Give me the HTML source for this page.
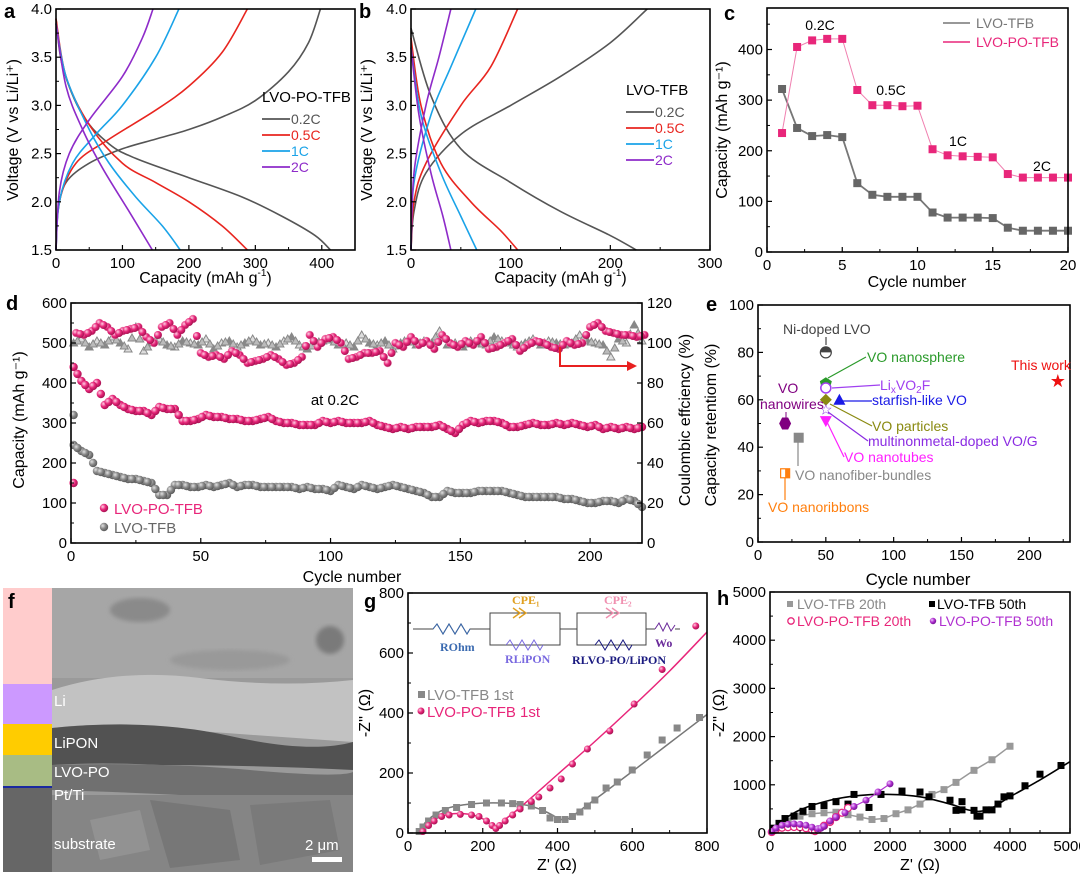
<!DOCTYPE html>
<html><head><meta charset="utf-8"><style>
html,body{margin:0;padding:0;background:#fff;}
svg{display:block;font-family:"Liberation Sans",Arial,sans-serif;}
.sem{font-family:"Liberation Sans",sans-serif;fill:#fff;font-size:15px;}
</style></head><body>
<svg id="fig" width="1080" height="880" viewBox="0 0 1080 880" xmlns="http://www.w3.org/2000/svg">
<defs>
<radialGradient id="gp" cx="35%" cy="35%" r="70%"><stop offset="0" stop-color="#ffd0e4"/><stop offset="0.5" stop-color="#e8267a"/><stop offset="1" stop-color="#a0104e"/></radialGradient>
<radialGradient id="gg" cx="35%" cy="35%" r="70%"><stop offset="0" stop-color="#e0e0e0"/><stop offset="0.5" stop-color="#888"/><stop offset="1" stop-color="#555"/></radialGradient>
<radialGradient id="gv" cx="35%" cy="35%" r="70%"><stop offset="0" stop-color="#f0c8ff"/><stop offset="0.5" stop-color="#b030d0"/><stop offset="1" stop-color="#701090"/></radialGradient>
<filter id="blur"><feGaussianBlur stdDeviation="2"/></filter>
</defs>
<g>
<rect x="3" y="588" width="49" height="96" fill="#ffcccc"/>
<rect x="3" y="684" width="49" height="40" fill="#cc99ff"/>
<rect x="3" y="724" width="49" height="31" fill="#ffcc00"/>
<rect x="3" y="755" width="49" height="32" fill="#a8bc84"/>
<rect x="3" y="786" width="49" height="2" fill="#1a2aa0"/>
<rect x="3" y="788" width="49" height="84" fill="#666"/>
<g>
<rect x="52" y="588" width="301" height="284" fill="#9a9a9a"/>
<rect x="52" y="588" width="301" height="90" fill="#a6a6a6"/>
<ellipse cx="140" cy="610" rx="30" ry="12" fill="#8a8a8a" filter="url(#blur)"/>
<ellipse cx="330" cy="640" rx="14" ry="14" fill="#7a7a7a" filter="url(#blur)"/>
<ellipse cx="230" cy="660" rx="60" ry="10" fill="#999" filter="url(#blur)"/>
<path d="M52 690 Q120 668 200 678 T353 680 L353 742 Q250 735 160 728 Q100 722 52 728Z" fill="#c2c2c2"/>
<path d="M52 728 Q150 718 230 736 T353 742 L353 770 Q250 765 160 765 Q100 762 52 765Z" fill="#525252"/>
<path d="M52 765 Q160 762 250 770 T353 772 L353 800 Q250 798 180 795 Q120 792 52 790Z" fill="#707070"/>
<rect x="52" y="795" width="301" height="77" fill="#858585"/>
<path d="M150 800 L230 810 L240 860 L170 868 Z" fill="#777"/>
<path d="M250 805 L330 800 L340 850 L260 865 Z" fill="#7a7a7a"/>
<path d="M90 820 L140 810 L150 850 L100 860 Z" fill="#929292"/>
<rect x="312" y="857" width="30" height="5" fill="#fff"/>
</g>
<text class="sem" x="54" y="706">Li</text>
<text class="sem" x="54" y="748">LiPON</text>
<text class="sem" x="54" y="777">LVO-PO</text>
<text class="sem" x="54" y="800">Pt/Ti</text>
<text class="sem" x="54" y="849">substrate</text>
<text class="sem" x="305" y="850" font-size="17">2 μm</text>
<text x="8" y="608" font-size="20" font-weight="bold">f</text>
</g>
</svg>
<script>
const NS='http://www.w3.org/2000/svg';
const svg=document.getElementById('fig');
function mk(tag,attrs,name,parent){
  const e=document.createElementNS(NS,tag);
  for(const k in attrs) e.setAttribute(k,attrs[k]);
  
  
  (parent||svg).appendChild(e);
  return e;
}
function txt(s,attrs,name,parent){const e=mk('text',attrs,name,parent);e.textContent=s;return e;}
function lin(d0,d1,r0,r1){return v=>r0+(v-d0)/(d1-d0)*(r1-r0);}
function frame(g,x0,x1,yb,yt){mk('rect',{x:x0,y:yt,width:x1-x0,height:yb-yt,fill:'none',stroke:'#000','stroke-width':1.6},'plot-frame',g);}
function xticks(g,sx,ticks,yb,labels,minor){ticks.forEach((t,i)=>{mk('line',{x1:sx(t),x2:sx(t),y1:yb,y2:yb-5,stroke:'#000','stroke-width':1.2},'x-tick',g);txt(labels[i],{x:sx(t),y:yb+18,'text-anchor':'middle','font-size':15},'x-tick-label',g);});
 (minor||[]).forEach(t=>mk('line',{x1:sx(t),x2:sx(t),y1:yb,y2:yb-3,stroke:'#000'},'x-minor-tick',g));}
function yticks(g,sy,ticks,x0,labels,minor){ticks.forEach((t,i)=>{mk('line',{x1:x0,x2:x0+5,y1:sy(t),y2:sy(t),stroke:'#000','stroke-width':1.2},'y-tick',g);txt(labels[i],{x:x0-4,y:sy(t)+5,'text-anchor':'end','font-size':15},'y-tick-label',g);});
 (minor||[]).forEach(t=>mk('line',{x1:x0,x2:x0+3,y1:sy(t),y2:sy(t),stroke:'#000'},'y-minor-tick',g));}
function ytitle(g,s,x,y,name){return txt(s,{x:x,y:y,'text-anchor':'middle','font-size':16,transform:`rotate(-90 ${x} ${y})`},name,g);}
function pathOf(xs,ys,sx,sy){return xs.map((x,i)=>(i?'L':'M')+sx(x).toFixed(1)+' '+sy(ys[i]).toFixed(1)).join(' ');}
function smooth(xs,ys,sx,sy){const p=xs.map((x,i)=>[sx(x),sy(ys[i])]);let d='M'+p[0][0]+' '+p[0][1];
 for(let i=0;i<p.length-1;i++){const p0=p[i-1]||p[i],p1=p[i],p2=p[i+1],p3=p[i+2]||p2;
 d+=` C${p1[0]+(p2[0]-p0[0])/6} ${p1[1]+(p2[1]-p0[1])/6} ${p2[0]-(p3[0]-p1[0])/6} ${p2[1]-(p3[1]-p1[1])/6} ${p2[0]} ${p2[1]}`;}return d;}

/* ===== Panel a data ===== */
const aRates=['0.2C','0.5C','1C','2C'];
const aColors=['#555555','#e8251f','#1aa3e8','#8e2bc9'];
const aChgCap=[[0,3,15,50,100,150,200,250,300,350,380,398],[0,5,30,80,150,200,250,288],[0,5,25,60,100,150,185],[0,5,20,50,100,130,146]];
const aChgV=[[1.5,1.9,2.2,2.4,2.55,2.65,2.75,2.88,3.05,3.35,3.65,4.0],[1.5,2.0,2.4,2.65,2.95,3.2,3.55,4.0],[1.5,2.0,2.4,2.7,3.0,3.5,4.0],[1.5,2.1,2.5,2.85,3.3,3.7,4.0]];
const aDisCap=[[0,10,40,80,120,200,280,340,390,413],[0,15,50,100,150,200,250,288],[0,15,50,80,120,160,187],[0,15,40,70,110,145]];
const aDisV=[[3.9,3.4,2.9,2.6,2.45,2.25,2.05,1.85,1.65,1.5],[3.9,3.3,2.8,2.4,2.2,2.0,1.75,1.5],[3.85,3.3,2.75,2.4,2.05,1.75,1.5],[3.85,3.2,2.75,2.35,1.9,1.5]];
/* ===== Panel b data ===== */
const bChgCap=[[0,3,15,50,100,150,200,237],[0,3,15,50,80,107],[0,3,20,40,65],[0,3,15,28,40]];
const bChgV=[[1.5,1.9,2.3,2.7,3.0,3.3,3.65,4.0],[1.5,2.0,2.4,3.0,3.4,4.0],[1.5,2.2,2.9,3.4,4.0],[1.5,2.3,3.0,3.5,4.0]];
const bDisCap=[[0,20,50,100,150,200,226],[0,10,30,60,90,107],[0,10,30,50,66],[0,8,20,32,40]];
const bDisV=[[3.8,3.1,2.55,2.2,1.9,1.65,1.5],[3.7,3.0,2.4,2.0,1.7,1.5],[3.6,2.9,2.3,1.85,1.5],[3.6,2.9,2.3,1.85,1.5]];
/* ===== Panel c data ===== */
const cCycles=[1,2,3,4,5,6,7,8,9,10,11,12,13,14,15,16,17,18,19,20];
const cPO=[235,405,418,421,421,320,290,290,288,289,203,191,189,188,187,154,147,147,147,147];
const cTFB=[322,245,229,231,227,136,113,109,109,109,78,68,68,68,67,48,42,42,42,42];
/* ===== Panel d data (every 3rd cycle starting at 1) ===== */
const dStep=3;
const dPOcap=[440,405,385,400,345,360,345,335,330,330,320,340,335,335,305,305,310,320,315,315,310,310,305,305,310,315,305,300,300,295,295,295,305,300,305,300,300,300,305,295,290,285,290,285,290,290,290,295,285,275,295,305,300,305,305,300,290,290,295,300,295,295,300,295,300,295,290,295,285,290,285,290,285,290];
const dTFBcap=[245,230,220,180,175,170,165,160,160,155,150,120,120,145,145,140,140,145,140,145,150,140,145,145,140,140,140,140,140,135,140,135,135,130,145,140,135,145,140,135,140,145,140,135,130,125,115,115,130,125,125,125,130,130,130,130,125,120,115,115,115,115,115,110,110,105,100,100,105,105,100,110,105,90];
const dPOce=[105,104,106,110,108,104,106,107,108,103,100,108,110,104,109,112,95,93,94,92,96,94,90,91,92,94,92,89,90,93,104,98,102,103,100,92,93,95,95,96,90,100,98,103,99,101,97,104,100,98,101,99,103,97,98,100,102,96,99,101,100,98,97,101,99,100,108,110,106,105,104,104,103,104];
const dTFBce=[100,102,98,101,99,103,100,97,108,96,100,102,99,98,101,100,99,102,97,100,101,98,100,102,99,100,98,101,103,99,97,100,101,102,99,100,98,104,100,99,101,97,100,102,99,101,100,106,99,100,98,101,100,99,103,101,100,98,100,102,99,101,100,99,100,104,101,100,99,93,102,100,109,101];
const dFirstPO=150, dFirstTFB=320;
/* ===== Panel e data ===== */
const eNames=['Ni-doped LVO','VO nanosphere','LixVO2F','starfish-like VO','VO particles','multinonmetal-doped VO/G','VO nanotubes','VO nanowires','VO nanofiber-bundles','VO nanoribbons','This work'];
const eCycles=[50,50,50,60,50,50,50,20,30,20,221];
const eRetention=[80,67,65,60,60,56,51,50,44,29,68];
/* ===== Panel g data ===== */
const gTFBx=[30,40,55,75,100,130,170,210,250,280,300,330,360,380,400,420,440,460,480,500,530,560,600,640,680,720,780];
const gTFBy=[5,20,40,60,75,85,95,100,100,98,95,90,75,50,45,45,55,70,90,110,150,170,210,260,310,350,385];
const gTFBfitX=[30,50,100,170,250,320,370,410,430,460,520,600,700,800];
const gTFBfitY=[0,40,80,97,100,92,70,45,48,75,130,205,300,395];
const gPOx=[40,55,70,90,110,140,170,190,210,225,235,245,260,280,300,330,350,380,410,440,480,540,605,680,770];
const gPOy=[5,25,40,55,60,62,60,55,40,25,15,25,40,60,80,105,120,150,180,230,280,340,430,545,690];
const gPOfitX=[40,60,100,140,180,210,235,260,300,400,500,600,700,800];
const gPOfitY=[0,35,60,65,58,40,12,45,85,195,305,420,540,670];
/* ===== Panel h data ===== */
const h20x=[50,150,300,500,700,900,1100,1300,1500,1700,1900,2100,2300,2500,2700,2900,3100,3400,3700,4000];
const h20y=[50,150,250,350,400,420,430,380,330,280,300,400,480,600,800,900,1050,1300,1520,1800];
const h50x=[50,150,250,400,550,700,900,1100,1300,1400,1650,1850,2200,2500,2650,3000,3100,3200,3200,3400,3450,3500,3600,3700,3800,3900,4000,4250,4500,4850];
const h50y=[100,200,300,350,450,550,570,650,600,800,530,800,870,850,750,680,470,650,480,470,350,350,480,480,600,750,770,980,1220,1400];
const h50fitX=[0,200,500,1000,1500,2000,2500,3000,3300,3500,3700,4000,4500,5000];
const h50fitY=[0,250,480,680,780,800,750,600,480,450,520,750,1100,1480];
const hPO20x=[30,100,200,300,400,500,600,700,750,800,900,1000,1100,1200,1300];
const hPO20y=[20,80,110,120,125,120,100,60,40,70,150,230,330,420,520];
const hPO50x=[30,100,200,300,400,500,600,700,800,850,900,1000,1100,1250,1400,1600,1800,2000];
const hPO50y=[30,100,160,180,190,180,160,120,90,100,140,250,330,420,550,680,850,1020];

function capTitle(g,x,y){
 const t=txt('Capacity (mAh g',{x:x,y:y,'text-anchor':'middle','font-size':16},'x-axis-title',g);
 const s=mk('tspan',{'font-size':10,dy:-7},'x-axis-title-sup',t);s.textContent='-1';
 const e=mk('tspan',{dy:7},'x-axis-title-end',t);e.textContent=')';
}
/* ---------- draw a & b ---------- */
function drawVC(name,letter,x0,x1,xmax,xt,chgC,chgV,disC,disV,legTitle,lx,ly,ytx){
 const g=mk('g',{},name);
 const sx=lin(0,xmax,x0,x1), sy=lin(1.5,4.0,250,9);
 for(let i=0;i<4;i++){
  mk('path',{d:smooth(chgC[i],chgV[i],sx,sy),fill:'none',stroke:aColors[i],'stroke-width':1.6},'charge-curve-'+aRates[i],g);
  mk('path',{d:smooth(disC[i],disV[i],sx,sy),fill:'none',stroke:aColors[i],'stroke-width':1.6},'discharge-curve-'+aRates[i],g);
 }
 frame(g,x0,x1,250,9);
 xticks(g,sx,xt,250,xt.map(String),xt.map(t=>t+50).filter(t=>t<xmax));
 const yt=[1.5,2.0,2.5,3.0,3.5,4.0];
 yticks(g,sy,yt,x0,yt.map(v=>v.toFixed(1)),[1.75,2.25,2.75,3.25,3.75]);
 capTitle(g,(x0+x1)/2,283);
 ytitle(g,'Voltage (V vs Li/Li⁺)',ytx,130,'y-axis-title');
 txt(letter,{x:x0-52,y:18,'font-size':20,'font-weight':'bold'},'panel-letter',g);
 txt(legTitle,{x:lx,y:ly,'font-size':15},'legend-title',g);
 for(let i=0;i<4;i++){
  mk('line',{x1:lx,x2:lx+28,y1:ly+17+i*16,y2:ly+17+i*16,stroke:aColors[i],'stroke-width':1.8},'legend-line',g);
  txt(aRates[i],{x:lx+29,y:ly+22+i*16,'font-size':14,fill:aColors[i]},'legend-entry',g);
 }
}
drawVC('panel-a','a',56,355,450,[0,100,200,300,400],aChgCap,aChgV,aDisCap,aDisV,'LVO-PO-TFB',262,102,18);
drawVC('panel-b','b',411,710,300,[0,100,200,300],bChgCap,bChgV,bDisCap,bDisV,'LVO-TFB',626,95,372);

/* ---------- c ---------- */
(function(){
 const g=mk('g',{},'panel-c');
 const sx=lin(0,20,767,1068), sy=lin(0,482,252,8);
 [[cTFB,'#777','#666'],[cPO,'#f080b0','#e8267a']].forEach(([ys,lc,mc],k)=>{
  mk('path',{d:pathOf(cCycles,ys,sx,sy),fill:'none',stroke:lc,'stroke-width':k?1:1.8},'series-line',g);
  ys.forEach((v,i)=>mk('rect',{x:sx(cCycles[i])-4,y:sy(v)-4,width:8,height:8,fill:mc},'data-point',g));
 });
 frame(g,767,1068,252,8);
 xticks(g,sx,[0,5,10,15,20],252,['0','5','10','15','20'],[2.5,7.5,12.5,17.5]);
 yticks(g,sy,[0,100,200,300,400],767,['0','100','200','300','400'],[50,150,250,350,450]);
 txt('Cycle number',{x:917,y:287,'text-anchor':'middle','font-size':16},'x-axis-title',g);
 ytitle(g,'Capacity (mAh g⁻¹)',727,130,'y-axis-title');
 txt('c',{x:724,y:20,'font-size':20,'font-weight':'bold'},'panel-letter',g);
 mk('line',{x1:943,x2:970,y1:23,y2:23,stroke:'#777','stroke-width':1.6},'legend-line',g);
 txt('LVO-TFB',{x:976,y:28,'font-size':14,fill:'#777'},'legend-entry',g);
 mk('line',{x1:943,x2:970,y1:42,y2:42,stroke:'#e8267a','stroke-width':1.6},'legend-line',g);
 txt('LVO-PO-TFB',{x:976,y:47,'font-size':14,fill:'#e8267a'},'legend-entry',g);
 [['0.2C',820,30],['0.5C',891,95],['1C',958,146],['2C',1042,171]].forEach(a=>txt(a[0],{x:a[1],y:a[2],'text-anchor':'middle','font-size':14},'rate-annotation',g));
})();

/* ---------- d ---------- */
(function(){
 const g=mk('g',{},'panel-d');
 const sx=lin(0,220,71,642), sy=lin(0,600,543,303), sy2=lin(0,120,543,303);
 dTFBce.forEach((v,i)=>mk('path',{d:`M${sx(1+i*dStep)} ${sy2(v)-4} l4 7 h-8z`,fill:(i%2?'#ddd':'#888'),stroke:'#888'},'ce-point-lvo-tfb',g));
 dTFBce.forEach((v,i)=>{if(i<dTFBce.length-1)mk('path',{d:`M${sx(2.5+i*dStep)} ${sy2((v+dTFBce[i+1])/2)-4} l4 7 h-8z`,fill:'#bbb',stroke:'#888'},'ce-point-lvo-tfb',g);});
 dPOce.forEach((v,i)=>mk('circle',{cx:sx(2+i*dStep),cy:sy2(v),r:4,fill:'url(#gp)',stroke:'#f0a0c0','stroke-width':.5},'ce-point-lvo-po-tfb',g));
 dPOce.forEach((v,i)=>{if(i<dPOce.length-1)mk('circle',{cx:sx(3.5+i*dStep),cy:sy2((v+dPOce[i+1])/2),r:4,fill:'url(#gp)'},'ce-point-lvo-po-tfb',g);});
 dTFBcap.forEach((v,i)=>mk('circle',{cx:sx(1+i*dStep),cy:sy(v),r:4.2,fill:'url(#gg)'},'capacity-point-lvo-tfb',g));
 dTFBcap.forEach((v,i)=>{if(i<dTFBcap.length-1)mk('circle',{cx:sx(2.5+i*dStep),cy:sy((v+dTFBcap[i+1])/2),r:4.2,fill:'url(#gg)'},'capacity-point-lvo-tfb',g);});
 dPOcap.forEach((v,i)=>mk('circle',{cx:sx(1+i*dStep),cy:sy(v),r:4.2,fill:'url(#gp)'},'capacity-point-lvo-po-tfb',g));
 dPOcap.forEach((v,i)=>{if(i<dPOcap.length-1)mk('circle',{cx:sx(2.5+i*dStep),cy:sy((v+dPOcap[i+1])/2),r:4.2,fill:'url(#gp)'},'capacity-point-lvo-po-tfb',g);});
 mk('circle',{cx:sx(1),cy:sy(dFirstPO),r:4.2,fill:'url(#gp)'},'capacity-point-first',g);
 mk('circle',{cx:sx(1),cy:sy(dFirstTFB),r:4.2,fill:'url(#gg)'},'capacity-point-first',g);
 frame(g,71,642,543,303);
 xticks(g,sx,[0,50,100,150,200],543,['0','50','100','150','200'],[25,75,125,175]);
 yticks(g,sy,[0,100,200,300,400,500,600],71,['0','100','200','300','400','500','600'],[50,150,250,350,450,550]);
 [0,20,40,60,80,100,120].forEach(t=>{mk('line',{x1:642,x2:637,y1:sy2(t),y2:sy2(t),stroke:'#000','stroke-width':1.2},'y2-tick',g);txt(String(t),{x:647,y:sy2(t)+5,'font-size':15},'y2-tick-label',g);});
 txt('Cycle number',{x:352,y:582,'text-anchor':'middle','font-size':16},'x-axis-title',g);
 ytitle(g,'Capacity (mAh g⁻¹)',24,420,'y-axis-title');
 ytitle(g,'Coulombic effciency (%)',690,420,'y2-axis-title');
 txt('d',{x:6,y:310,'font-size':20,'font-weight':'bold'},'panel-letter',g);
 txt('at 0.2C',{x:335,y:405,'text-anchor':'middle','font-size':15},'annotation-rate',g);
 mk('path',{d:'M560 347 V366 H628',fill:'none',stroke:'#e82020','stroke-width':2},'axis-arrow',g);
 mk('path',{d:'M637 366 l-10 -5 v10z',fill:'#e82020'},'axis-arrowhead',g);
 mk('circle',{cx:104,cy:508,r:4.2,fill:'url(#gp)'},'legend-marker',g);
 txt('LVO-PO-TFB',{x:114,y:514,'font-size':15,fill:'#e8267a'},'legend-entry',g);
 mk('circle',{cx:104,cy:527,r:4.2,fill:'url(#gg)'},'legend-marker',g);
 txt('LVO-TFB',{x:114,y:533,'font-size':15,fill:'#666'},'legend-entry',g);
})();

/* ---------- e ---------- */
(function(){
 const g=mk('g',{},'panel-e');
 const sx=lin(0,230,758,1070), sy=lin(0,100,542,305);
 frame(g,758,1070,542,305);
 xticks(g,sx,[0,50,100,150,200],542,['0','50','100','150','200'],[25,75,125,175,225]);
 yticks(g,sy,[0,20,40,60,80,100],758,['0','20','40','60','80','100'],[10,30,50,70,90]);
 txt('Cycle number',{x:918,y:585,'text-anchor':'middle','font-size':17},'x-axis-title',g);
 ytitle(g,'Capacity retentiom (%)',716,425,'y-axis-title');
 txt('e',{x:706,y:311,'font-size':20,'font-weight':'bold'},'panel-letter',g);
 const cols=['#444','#2a9a2a','#a040f0','#1a1ae6','#8a8a10','#8a2be2','#ff20ff','#800080','#888','#ff7f0e','#ee1111'];
 const labs=[[783,334],[867,362],[880,390],[872,405],[872,431],[868,446],[844,462],[760,409],[795,480],[768,512],[1011,370]];
 const leaders=[[826,337,826,345],[866,357,828,378],[880,385,832,388],[872,401,842,401],[872,426,830,404],[868,441,828,412],[844,457,827,422],null,[798,466,798,440],[785,500,785,478],null];
 eNames.forEach((n,i)=>{
  const x=sx(eCycles[i]),y=sy(eRetention[i]),c=cols[i];
  if(leaders[i])mk('line',{x1:leaders[i][0],y1:leaders[i][1],x2:leaders[i][2],y2:leaders[i][3],stroke:c,'stroke-width':1.2},'leader-line',g);
  if(i===0){mk('circle',{cx:x,cy:y,r:5.5,fill:'#fff',stroke:'#444','stroke-width':1.2},'marker-'+i,g);mk('path',{d:`M${x-5.5} ${y} A5.5 5.5 0 0 1 ${x+5.5} ${y}Z`,fill:'#444'},'marker-half',g);}
  else if(i===1)mk('path',{d:`M${x} ${y-6} L${x+6} ${y-2} L${x+4} ${y+5} L${x-4} ${y+5} L${x-6} ${y-2}Z`,fill:c},'marker-'+i,g);
  else if(i===2)mk('circle',{cx:x,cy:y,r:5,fill:'#fff',stroke:c,'stroke-width':1.5},'marker-'+i,g);
  else if(i===3)mk('path',{d:`M${x} ${y-6} L${x+6} ${y+5} L${x-6} ${y+5}Z`,fill:c},'marker-'+i,g);
  else if(i===4)mk('path',{d:`M${x} ${y-6} L${x+6} ${y} L${x} ${y+6} L${x-6} ${y}Z`,fill:c},'marker-'+i,g);
  else if(i===5)txt('☆',{x:x,y:y+5,'text-anchor':'middle','font-size':15,fill:c,'font-family':'DejaVu Sans'},'marker-'+i,g);
  else if(i===6)mk('path',{d:`M${x-6} ${y-5} L${x+6} ${y-5} L${x} ${y+6}Z`,fill:c},'marker-'+i,g);
  else if(i===7)mk('path',{d:`M${x-6} ${y} L${x-3} ${y-6} L${x+3} ${y-6} L${x+6} ${y} L${x+3} ${y+6} L${x-3} ${y+6}Z`,fill:c},'marker-'+i,g);
  else if(i===8)mk('rect',{x:x-5,y:y-5,width:10,height:10,fill:c},'marker-'+i,g);
  else if(i===9){mk('rect',{x:x-4.5,y:y-4.5,width:9,height:9,fill:'#fff',stroke:c,'stroke-width':1.2},'marker-'+i,g);mk('rect',{x:x,y:y-4.5,width:4.5,height:9,fill:c},'marker-half',g);}
  else txt('★',{x:x,y:y+6,'text-anchor':'middle','font-size':18,fill:c,'font-family':'DejaVu Sans'},'marker-'+i,g);
  if(i===2){const t=txt('Li',{x:labs[i][0],y:labs[i][1],'font-size':14,fill:c},'label-'+i,g);
   const a=mk('tspan',{'font-size':10,dy:3},'subscript',t);a.textContent='x';
   const b=mk('tspan',{dy:-3},'label-part',t);b.textContent='VO';
   const c2=mk('tspan',{'font-size':10,dy:3},'subscript',t);c2.textContent='2';
   const d=mk('tspan',{dy:-3},'label-part',t);d.textContent='F';}
  else if(i===7){txt('VO',{x:778,y:393,'font-size':14,fill:c},'label-'+i,g);txt('nanowires',{x:760,y:409,'font-size':14,fill:c},'label-'+i,g);mk('line',{x1:786,y1:412,x2:786,y2:418,stroke:c},'leader-line',g);}
  else txt(n,{x:labs[i][0],y:labs[i][1],'font-size':14,fill:c},'label-'+i,g);
 });
})();

/* ---------- g ---------- */
(function(){
 const g=mk('g',{},'panel-g');
 const sx=lin(0,800,408,707), sy=lin(0,800,833,593);
 mk('path',{d:smooth(gTFBfitX,gTFBfitY,sx,sy),fill:'none',stroke:'#777','stroke-width':1.5},'fit-line-lvo-tfb',g);
 mk('path',{d:smooth(gPOfitX,gPOfitY,sx,sy),fill:'none',stroke:'#e8267a','stroke-width':1.5},'fit-line-lvo-po-tfb',g);
 gTFBx.forEach((x,i)=>mk('rect',{x:sx(x)-3.5,y:sy(gTFBy[i])-3.5,width:7,height:7,fill:'#888'},'data-point-lvo-tfb',g));
 gPOx.forEach((x,i)=>mk('circle',{cx:sx(x),cy:sy(gPOy[i]),r:3.5,fill:'url(#gp)'},'data-point-lvo-po-tfb',g));
 frame(g,408,707,833,593);
 xticks(g,sx,[0,200,400,600,800],833,['0','200','400','600','800'],[100,300,500,700]);
 yticks(g,sy,[0,200,400,600,800],408,['0','200','400','600','800'],[100,300,500,700]);
 txt("Z' (Ω)",{x:557,y:870,'text-anchor':'middle','font-size':16},'x-axis-title',g);
 ytitle(g,"-Z'' (Ω)",370,713,'y-axis-title');
 txt('g',{x:364,y:608,'font-size':20,'font-weight':'bold'},'panel-letter',g);
 mk('rect',{x:418,y:691,width:7,height:7,fill:'#888'},'legend-marker',g);
 txt('LVO-TFB 1st',{x:427,y:700,'font-size':15,fill:'#888'},'legend-entry',g);
 mk('circle',{cx:421,cy:711,r:3.5,fill:'url(#gp)'},'legend-marker',g);
 txt('LVO-PO-TFB 1st',{x:427,y:717,'font-size':15,fill:'#e8267a'},'legend-entry',g);
 const c=mk('g',{fill:'none',stroke:'#444','stroke-width':1},'equivalent-circuit',g);
 mk('path',{d:'M413 629 H433 l4 -5 l6 10 l6 -10 l6 10 l6 -10 l6 10 l3 -5 H490 M490 613 V645 H560 V613 Z M560 629 H577 M577 613 V645 H646 V613 Z M646 629 H655 M675 629 H680'},'circuit-wires',c);
 mk('path',{d:'M433 629 l4 -5 l6 10 l6 -10 l6 10 l6 -10 l6 10 l3 -5',stroke:'#3a6ab0'},'resistor-rohm',c);
 mk('path',{d:'M506 645 l4 -5 l6 10 l6 -10 l6 10 l6 -10 l6 10 l3 -5',stroke:'#7a6ae0'},'resistor-rlipon',c);
 mk('path',{d:'M595 645 l4 -5 l6 10 l6 -10 l6 10 l6 -10 l6 10 l3 -5',stroke:'#1a1a80'},'resistor-rlvo',c);
 mk('path',{d:'M513 608 l7 5 l-7 5 M519 608 l7 5 l-7 5',stroke:'#e0a020','stroke-width':1.4},'cpe1-symbol',c);
 mk('path',{d:'M606 608 l7 5 l-7 5 M612 608 l7 5 l-7 5',stroke:'#f090b0','stroke-width':1.4},'cpe2-symbol',c);
 mk('path',{d:'M655 629 l4 -6 l4 8 l4 -8 l4 8 l4 -6',stroke:'#6a2a9a'},'warburg-symbol',c);
 const ser={'font-family':'"Liberation Serif",serif','font-weight':'bold','font-size':12};
 txt('CPE₁',Object.assign({x:512,y:604,fill:'#e0a020'},ser),'cpe1-label',g);
 txt('CPE₂',Object.assign({x:604,y:604,fill:'#f090b0'},ser),'cpe2-label',g);
 txt('ROhm',Object.assign({x:440,y:651,fill:'#3a6ab0','font-size':11},ser),'rohm-label',g);
 txt('RLiPON',Object.assign({x:505,y:663,fill:'#7a6ae0','font-size':11},ser),'rlipon-label',g);
 txt('RLVO-PO/LiPON',Object.assign({x:572,y:664,fill:'#1a1a80','font-size':11},ser),'rlvo-label',g);
 txt('Wo',Object.assign({x:655,y:647,fill:'#6a2a9a'},ser),'wo-label',g);
})();

/* ---------- h ---------- */
(function(){
 const g=mk('g',{},'panel-h');
 const sx=lin(0,5000,770,1070), sy=lin(0,5000,833,592);
 mk('path',{d:pathOf(h20x,h20y,sx,sy),fill:'none',stroke:'#999','stroke-width':1.5},'fit-line-lvo-tfb-20',g);
 mk('path',{d:smooth(h50fitX,h50fitY,sx,sy),fill:'none',stroke:'#000','stroke-width':1.6},'fit-line-lvo-tfb-50',g);
 mk('path',{d:smooth(hPO20x,hPO20y,sx,sy),fill:'none',stroke:'#e8267a','stroke-width':1.2},'fit-line-lvo-po-20',g);
 mk('path',{d:smooth(hPO50x,hPO50y,sx,sy),fill:'none',stroke:'#b030d0','stroke-width':1.2},'fit-line-lvo-po-50',g);
 h20x.forEach((x,i)=>mk('rect',{x:sx(x)-3.5,y:sy(h20y[i])-3.5,width:7,height:7,fill:'#999'},'data-point-lvo-tfb-20',g));
 h50x.forEach((x,i)=>mk('rect',{x:sx(x)-3.5,y:sy(h50y[i])-3.5,width:7,height:7,fill:'#000'},'data-point-lvo-tfb-50',g));
 hPO20x.forEach((x,i)=>mk('circle',{cx:sx(x),cy:sy(hPO20y[i]),r:3.5,fill:'#fff',stroke:'#e8267a','stroke-width':1.3},'data-point-lvo-po-20',g));
 hPO50x.forEach((x,i)=>mk('circle',{cx:sx(x),cy:sy(hPO50y[i]),r:3.5,fill:'url(#gv)'},'data-point-lvo-po-50',g));
 frame(g,770,1070,833,592);
 xticks(g,sx,[0,1000,2000,3000,4000,5000],833,['0','1000','2000','3000','4000','5000'],[500,1500,2500,3500,4500]);
 yticks(g,sy,[0,1000,2000,3000,4000,5000],770,['0','1000','2000','3000','4000','5000'],[500,1500,2500,3500,4500]);
 txt("Z' (Ω)",{x:920,y:870,'text-anchor':'middle','font-size':16},'x-axis-title',g);
 ytitle(g,"-Z'' (Ω)",724,713,'y-axis-title');
 txt('h',{x:717,y:605,'font-size':20,'font-weight':'bold'},'panel-letter',g);
 mk('rect',{x:787,y:601,width:6,height:6,fill:'#999'},'legend-marker',g);
 txt('LVO-TFB 20th',{x:797,y:609,'font-size':14,fill:'#888'},'legend-entry',g);
 mk('rect',{x:929,y:601,width:6,height:6,fill:'#000'},'legend-marker',g);
 txt('LVO-TFB 50th',{x:937,y:609,'font-size':14,fill:'#000'},'legend-entry',g);
 mk('circle',{cx:791,cy:621,r:3.2,fill:'#fff',stroke:'#e8267a','stroke-width':1.3},'legend-marker',g);
 txt('LVO-PO-TFB 20th',{x:797,y:626,'font-size':14,fill:'#e8267a'},'legend-entry',g);
 mk('circle',{cx:933,cy:621,r:3.2,fill:'url(#gv)'},'legend-marker',g);
 txt('LVO-PO-TFB 50th',{x:939,y:626,'font-size':14,fill:'#b030d0'},'legend-entry',g);
})();
</script>
</body></html>
